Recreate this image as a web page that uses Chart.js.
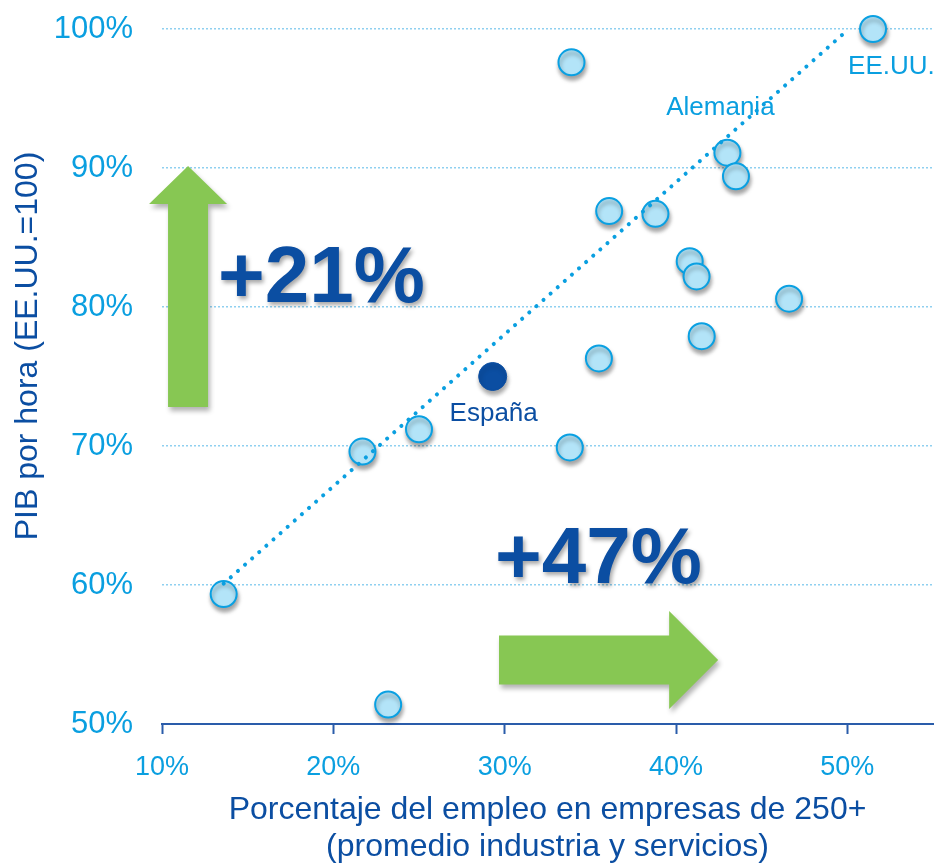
<!DOCTYPE html>
<html>
<head>
<meta charset="utf-8">
<script src="https://cdn.jsdelivr.net/npm/chart.js@4/dist/chart.umd.min.js"></script>
<style>
  body { margin: 0; background: #fff; }
  #wrap { width: 934px; height: 866px; }
</style>
</head>
<body>
<div id="wrap"><canvas id="chart"></canvas></div>
<script>
// datos
const empleo = [51.5, 33.9, 43.0, 43.5, 36.1, 38.8, 40.8, 41.2, 46.6, 41.5, 35.5, 33.8, 21.7, 25.0, 13.6, 23.2];
const pib    = [100.0, 97.6, 91.1, 89.4, 86.9, 86.7, 83.3, 82.2, 80.6, 77.9, 76.3, 69.9, 69.6, 71.2, 59.35, 51.4];
const paises = ["EE.UU.", "", "Alemania", "", "", "", "", "", "", "", "", "", "", "", "", ""];
const espana = { x: 29.3, y: 75.0 };
const tendencia = [{ x: 13.6, y: 60.1 }, { x: 49.9, y: 99.8 }];
const xTicks = [10, 20, 30, 40, 50];
const yTicks = [50, 60, 70, 80, 90, 100];

const FONT = "Arial, 'Liberation Sans', sans-serif";
const LIGHT = "#0a9fe0";
const DARK = "#0b4ea2";
const GREEN = "#87c753";

const puntos = empleo.map((x, i) => ({ x: x, y: pib[i] }));

function shadow(ctx, blur, ox, oy, col) {
  ctx.shadowColor = col;
  ctx.shadowBlur = blur;
  ctx.shadowOffsetX = ox;
  ctx.shadowOffsetY = oy;
}

const extras = {
  id: "extras",
  beforeDatasetsDraw(chart) {
    const ctx = chart.ctx;
    const xs = chart.scales.x, ys = chart.scales.y;

    // flecha vertical
    ctx.save();
    shadow(ctx, 5, 2, 4, "rgba(0,0,0,0.3)");
    ctx.fillStyle = GREEN;
    let cx = xs.getPixelForValue(11.52);
    let b = ys.getPixelForValue(72.8), t = ys.getPixelForValue(90.14);
    ctx.beginPath();
    ctx.moveTo(cx - 20, b);
    ctx.lineTo(cx - 20, t + 38);
    ctx.lineTo(cx - 39, t + 38);
    ctx.lineTo(cx, t);
    ctx.lineTo(cx + 39, t + 38);
    ctx.lineTo(cx + 20, t + 38);
    ctx.lineTo(cx + 20, b);
    ctx.closePath();
    ctx.fill();

    // flecha horizontal
    let x0 = xs.getPixelForValue(29.67), x1 = xs.getPixelForValue(42.46);
    let cy = ys.getPixelForValue(54.6);
    ctx.beginPath();
    ctx.moveTo(x0, cy - 24.5);
    ctx.lineTo(x1 - 49, cy - 24.5);
    ctx.lineTo(x1 - 49, cy - 49);
    ctx.lineTo(x1, cy);
    ctx.lineTo(x1 - 49, cy + 49);
    ctx.lineTo(x1 - 49, cy + 24.5);
    ctx.lineTo(x0, cy + 24.5);
    ctx.closePath();
    ctx.fill();
    ctx.restore();

    // textos grandes
    ctx.save();
    shadow(ctx, 4, 2, 3, "rgba(0,0,0,0.35)");
    ctx.fillStyle = DARK;
    ctx.font = "bold 80px " + FONT;
    ctx.textBaseline = "alphabetic";
    ctx.textAlign = "left";
    ctx.fillText("+21%", xs.getPixelForValue(13.27), ys.getPixelForValue(80.36));
    ctx.fillText("+47%", xs.getPixelForValue(29.44), ys.getPixelForValue(60.14));
    ctx.restore();

    // etiquetas de países
    ctx.save();
    ctx.font = "26px " + FONT;
    ctx.textBaseline = "middle";
    ctx.textAlign = "left";
    ctx.fillStyle = LIGHT;
    ctx.fillText(paises[0], xs.getPixelForValue(empleo[0]) - 25, ys.getPixelForValue(pib[0]) + 38);
    ctx.textAlign = "center";
    ctx.fillText(paises[2], xs.getPixelForValue(empleo[2]) - 7, ys.getPixelForValue(pib[2]) - 45);
    ctx.fillStyle = DARK;
    ctx.fillText("España", xs.getPixelForValue(espana.x) + 1, ys.getPixelForValue(espana.y) + 37);
    ctx.restore();

    // título eje Y
    ctx.save();
    ctx.translate(28, 346);
    ctx.rotate(-Math.PI / 2);
    ctx.font = "32px " + FONT;
    ctx.fillStyle = DARK;
    ctx.textAlign = "center";
    ctx.textBaseline = "middle";
    ctx.fillText("PIB por hora (EE.UU.=100)", 0, 0);
    ctx.restore();
  },
  beforeDatasetDraw(chart, args) {
    if (args.meta.type === "scatter") {
      chart.ctx.save();
      shadow(chart.ctx, 4, 1, 4, "rgba(0,0,0,0.35)");
    }
  },
  afterDatasetDraw(chart, args) {
    if (args.meta.type === "scatter") chart.ctx.restore();
  }
};

new Chart(document.getElementById("chart"), {
  type: "scatter",
  data: {
    datasets: [
      {
        type: "line",
        data: tendencia,
        borderColor: "#0a9fe0",
        borderWidth: 4,
        borderDash: [0.1, 9.4],
        borderCapStyle: "round",
        pointRadius: 0,
        fill: false,
        clip: false,
        order: 0
      },
      {
        data: [espana],
        backgroundColor: DARK,
        borderColor: DARK,
        borderWidth: 1,
        pointRadius: 14,
        clip: false,
        order: 1
      },
      {
        data: puntos,
        backgroundColor: "#b3e4f8",
        borderColor: "#0aa0e2",
        borderWidth: 2,
        pointRadius: 13,
        clip: false,
        order: 2
      }
    ]
  },
  options: {
    responsive: true,
    maintainAspectRatio: false,
    animation: false,
    layout: { autoPadding: false, padding: { top: 29, right: 1, left: 0, bottom: 0 } },
    plugins: { legend: { display: false }, tooltip: { enabled: false } },
    scales: {
      x: {
        type: "linear",
        min: 10,
        max: 55,
        afterFit: s => { s.height = 142; s.paddingLeft = 0; s.paddingRight = 0; },
        afterBuildTicks: s => { s.ticks = xTicks.map(v => ({ value: v })); },
        border: { display: true, color: "#2a5caa", width: 2 },
        grid: { drawOnChartArea: false, drawTicks: true, tickLength: 10, tickColor: "#2a5caa", tickWidth: 2 },
        ticks: {
          padding: 17,
          color: LIGHT,
          font: { family: FONT, size: 27 },
          callback: v => v + "%"
        },
        title: {
          display: true,
          text: ["Porcentaje del empleo en empresas de 250+", "(promedio industria y servicios)"],
          color: DARK,
          font: { family: FONT, size: 32, lineHeight: 1.17 },
          padding: { top: 0, bottom: 0 }
        }
      },
      y: {
        min: 50,
        max: 100,
        afterFit: s => { s.width = 162; s.paddingTop = 0; s.paddingBottom = 0; },
        afterBuildTicks: s => { s.ticks = yTicks.map(v => ({ value: v })); },
        border: { display: false, dash: [2, 2] },
        grid: { color: "#8fd0f0", lineWidth: 1.5, drawTicks: false },
        ticks: {
          padding: 29,
          color: LIGHT,
          font: { family: FONT, size: 31 },
          callback: v => v + "%"
        }
      }
    }
  },
  plugins: [extras]
});
</script>
</body>
</html>
